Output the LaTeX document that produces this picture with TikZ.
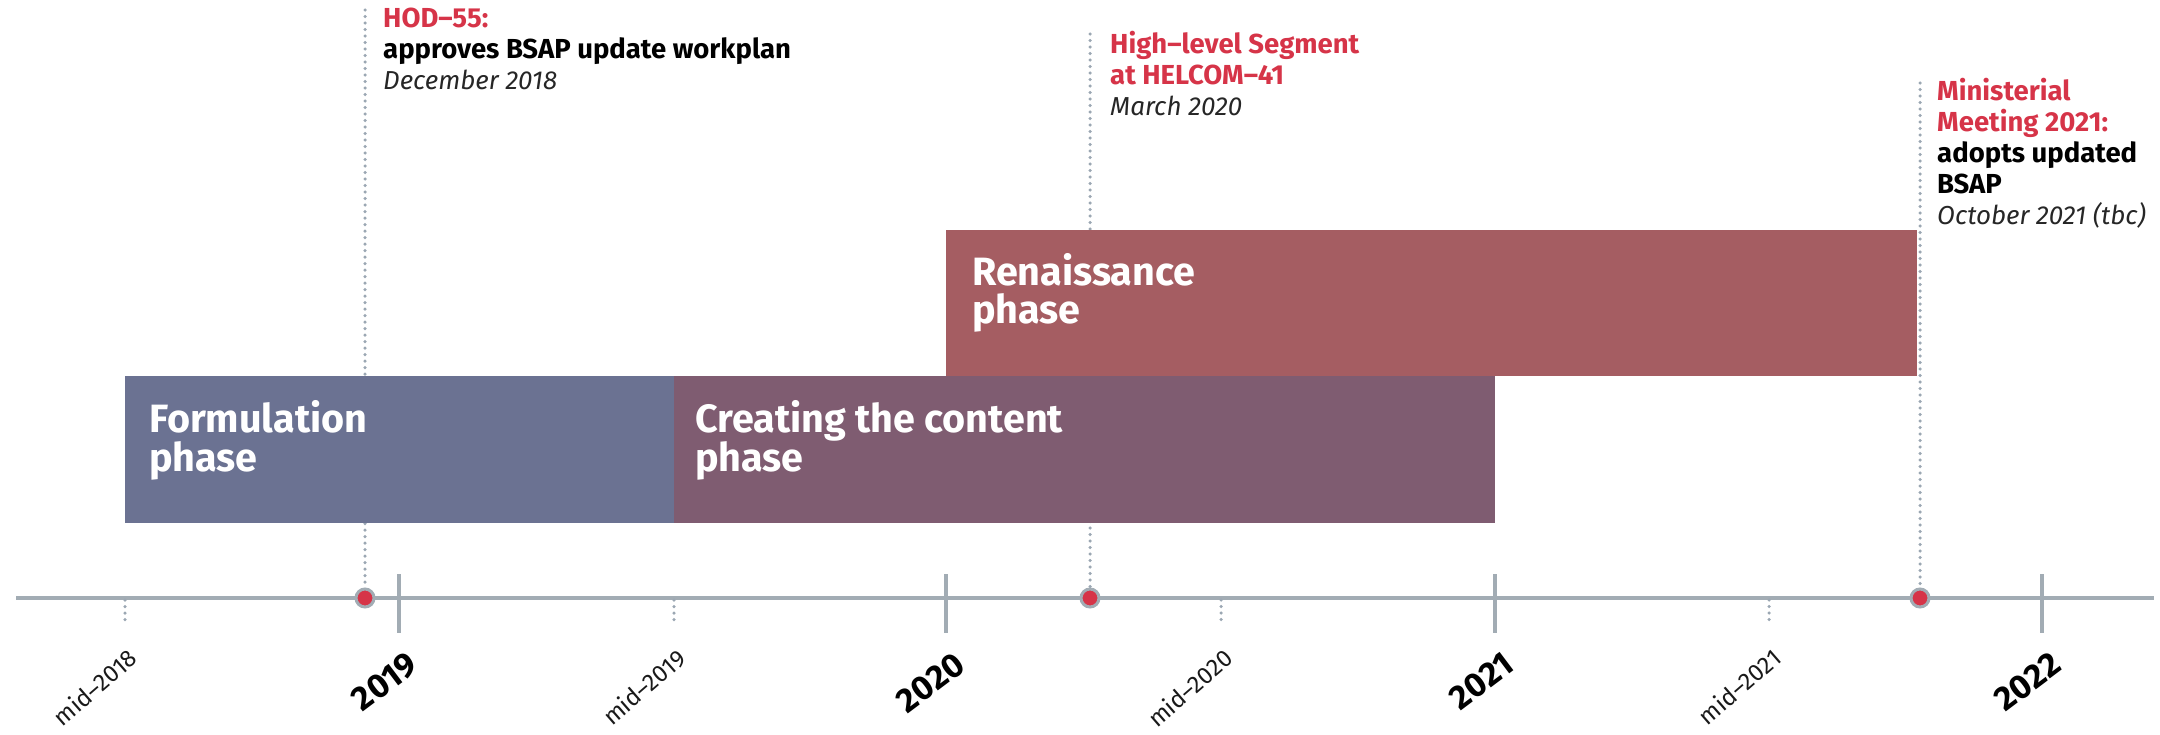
\documentclass[tikz,border=0pt]{standalone}
\usepackage{fontspec}
\setmainfont{Fira Sans}
\definecolor{hred}{RGB}{214,52,72}
\definecolor{formblue}{RGB}{107,114,146}
\definecolor{createmauve}{RGB}{127,92,113}
\definecolor{renred}{RGB}{165,93,98}
\definecolor{axisgray}{RGB}{162,172,180}
\definecolor{dotgray}{RGB}{155,167,179}
\begin{document}
\begin{tikzpicture}[x=1pt,y=-1pt,
  axisline/.style={draw=axisgray,line width=4pt},
  yeartick/.style={draw=axisgray,line width=4pt},
  dotline/.style={draw=dotgray,line width=3.5pt,line cap=round,dash pattern=on 0pt off 6.5pt},
  phasebox/.style={draw=none,inner sep=0pt,anchor=north west},
  phasetext/.style={anchor=base west,inner sep=0pt,text=white,font=\fontsize{39.5}{40}\selectfont\bfseries},
  evred/.style={anchor=base west,inner sep=0pt,text=hred,font=\fontsize{27.5}{30}\selectfont\bfseries},
  evblack/.style={anchor=base west,inner sep=0pt,text=black,font=\fontsize{27.5}{30}\selectfont\bfseries},
  evdate/.style={anchor=base west,inner sep=0pt,text=black!85,font=\fontsize{26}{30}\selectfont\itshape},
  midlabel/.style={anchor=east,rotate=41,inner sep=0pt,text=black!90,font=\fontsize{24}{25}\selectfont},
  yearlabel/.style={anchor=east,rotate=37,inner sep=0pt,text=black,font=\fontsize{34}{34}\selectfont\bfseries},
  evdot/.style={circle,fill=hred,draw=axisgray,line width=3pt,minimum size=18pt,inner sep=0pt}
]
\useasboundingbox (0,0) rectangle (2160,734);

% axis
\coordinate (axL) at (16,598);
\coordinate (axR) at (2154,598);
\draw[axisline] (axL) -- (axR);

% year ticks (solid)
\foreach \n/\x in {y2019/399,y2020/946,y2021/1495,y2022/2042}{
  \coordinate (\n t) at (\x,574);
  \coordinate (\n b) at (\x,633);
  \draw[yeartick] (\n t) -- (\n b);
}
% mid-year ticks (dotted)
\foreach \n/\x in {m2018/125,m2019/674,m2020/1221,m2021/1769}{
  \coordinate (\n t) at (\x,600);
  \coordinate (\n b) at (\x,623);
  \draw[dotline] (\n t) -- (\n b);
}

% axis labels
\node[midlabel] (lm2018) at (133,654) {mid–2018};
\node[midlabel] (lm2019) at (682,654) {mid–2019};
\node[midlabel] (lm2020) at (1229,654) {mid–2020};
\node[midlabel] (lm2021) at (1777,654) {mid–2021};
\node[yearlabel] (l2019) at (413.5,660) {2019};
\node[yearlabel] (l2020) at (960.5,660) {2020};
\node[yearlabel] (l2021) at (1509.5,660) {2021};
\node[yearlabel] (l2022) at (2056.5,660) {2022};

% event markers and lines
\coordinate (hodtop) at (365,10);
\coordinate (hlstop) at (1090,34);
\coordinate (mintop) at (1920,83);
\node[evdot] (hoddot) at (365,598) {};
\node[evdot] (hlsdot) at (1090,598) {};
\node[evdot] (mindot) at (1920,598) {};
\draw[dotline] (hodtop) -- (hoddot.north);
\draw[dotline] (hlstop) -- (hlsdot.north);
\draw[dotline] (mintop) -- (mindot.north);

% phase boxes
\node[phasebox,fill=renred,minimum width=971pt,minimum height=146pt] (ren) at (946,230) {};
\node[phasebox,fill=formblue,minimum width=549pt,minimum height=147pt] (form) at (125,376) {};
\node[phasebox,fill=createmauve,minimum width=821pt,minimum height=147pt] (create) at (674,376) {};

\node[phasetext] (form1) at (149,432) {Formulation};
\node[phasetext] (form2) at (149,471) {phase};
\node[phasetext] (create1) at (695,432) {Creating the content};
\node[phasetext] (create2) at (695,471) {phase};
\node[phasetext] (ren1) at (972,285) {Renaissance};
\node[phasetext] (ren2) at (972,323) {phase};

% event labels
\node[evred] (hod1) at (383,27) {HOD–55:};
\node[evblack] (hod2) at (383,58) {approves BSAP update workplan};
\node[evdate] (hod3) at (383,89) {December 2018};

\node[evred] (hls1) at (1110,53) {High–level Segment};
\node[evred] (hls2) at (1110,84) {at HELCOM–41};
\node[evdate] (hls3) at (1110,115) {March 2020};

\node[evred] (min1) at (1937,100) {Ministerial};
\node[evred] (min2) at (1937,131) {Meeting 2021:};
\node[evblack] (min3) at (1937,162) {adopts updated};
\node[evblack] (min4) at (1937,193) {BSAP};
\node[evdate] (min5) at (1937,224) {October 2021 (tbc)};
\end{tikzpicture}
\end{document}
